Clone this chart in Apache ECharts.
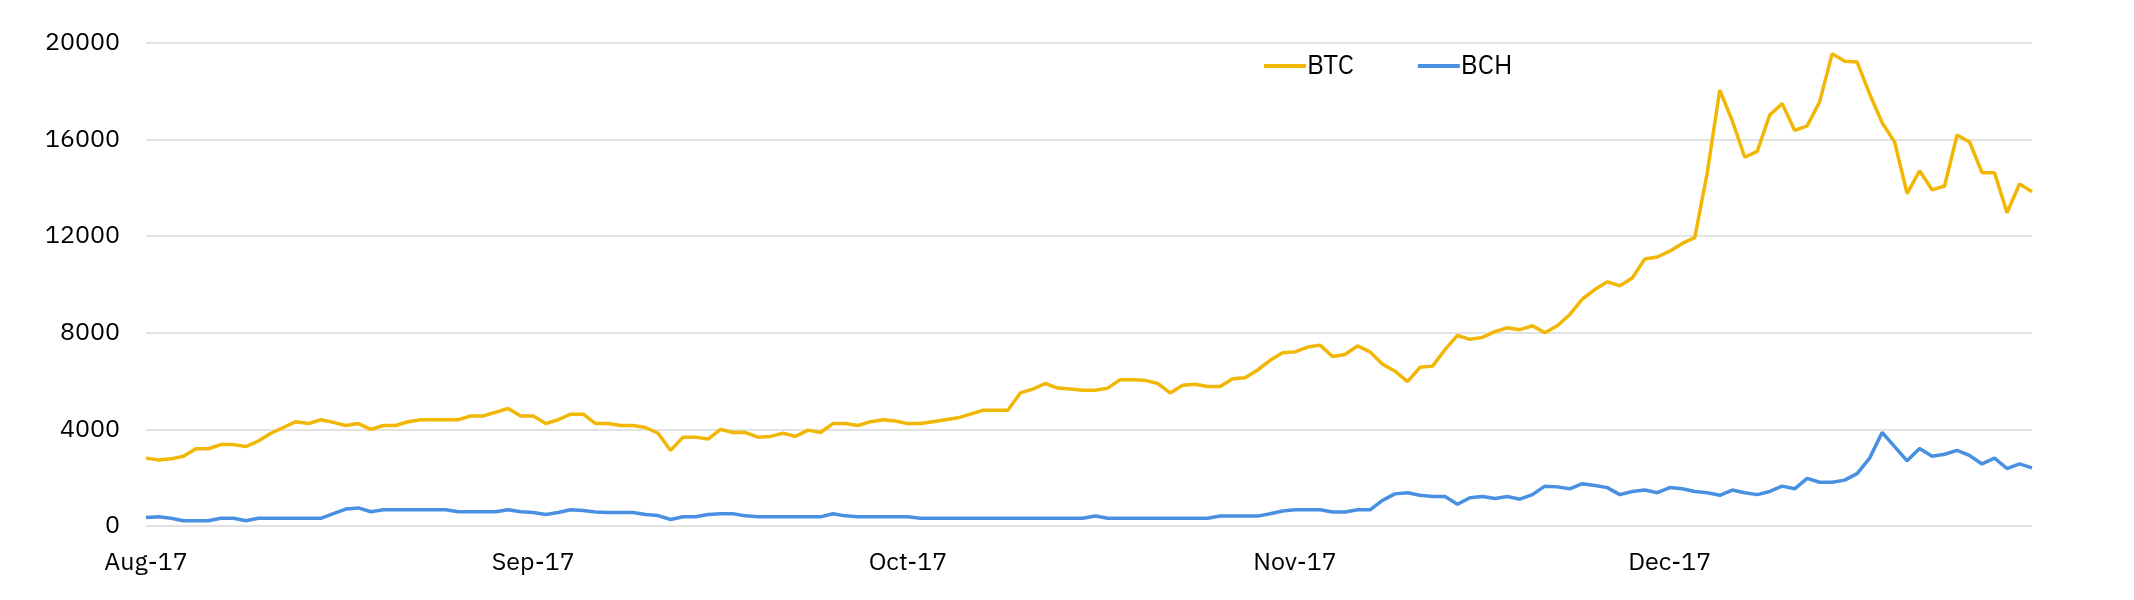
<!DOCTYPE html>
<html>
<head>
<meta charset="utf-8">
<script src="https://cdn.jsdelivr.net/npm/echarts@6/dist/echarts.min.js"></script>
<style>
  html, body { margin: 0; padding: 0; background: #fff; }
  #chart { width: 2134px; height: 600px; }
</style>
</head>
<body>
<div id="chart"></div>
<script>
// daily prices, 1 Aug 2017 onwards
var btc = [
    2810, 2730, 2780, 2890, 3200, 3200, 3370, 3370, 3290, 3520,
    3840, 4080, 4320, 4240, 4400, 4290, 4160, 4240, 4000, 4160,
    4160, 4320, 4400, 4400, 4400, 4400, 4560, 4560, 4710, 4870,
    4560, 4560, 4240, 4400, 4630, 4630, 4240, 4240, 4160, 4160,
    4080, 3840, 3130, 3680, 3680, 3600, 4000, 3870, 3870, 3680,
    3710, 3840, 3710, 3970, 3870, 4240, 4240, 4160, 4320, 4400,
    4350, 4240, 4240, 4320, 4400, 4480, 4630, 4790, 4790, 4790,
    5510, 5670, 5900, 5710, 5670, 5620, 5620, 5710, 6060, 6060,
    6030, 5900, 5510, 5830, 5870, 5780, 5780, 6100, 6140, 6460,
    6860, 7170, 7210, 7410, 7490, 7020, 7100, 7460, 7210, 6700,
    6410, 5980, 6570, 6620, 7300, 7890, 7730, 7810, 8050, 8210,
    8130, 8290, 8000, 8290, 8760, 9400, 9790, 10110, 9950, 10270,
    11060, 11140, 11380, 11700, 11940, 14630, 18050, 16780, 15270, 15510,
    17020, 17490, 16380, 16570, 17570, 19560, 19240, 19210, 17890, 16700,
    15900, 13760, 14710, 13920, 14080, 16190, 15900, 14630, 14630, 12970,
    14160, 13840
];
var bch = [
    350, 380, 320, 220, 220, 220, 320, 320, 220, 320,
    320, 320, 320, 320, 320, 510, 700, 750, 590, 670,
    670, 670, 670, 670, 670, 590, 590, 590, 590, 670,
    590, 560, 480, 560, 670, 640, 580, 560, 560, 560,
    480, 430, 270, 380, 380, 480, 510, 510, 420, 380,
    380, 380, 380, 380, 380, 510, 420, 380, 380, 380,
    380, 380, 320, 320, 320, 320, 320, 320, 320, 320,
    320, 320, 320, 320, 320, 320, 410, 320, 320, 320,
    320, 320, 320, 320, 320, 320, 410, 410, 410, 410,
    510, 620, 670, 670, 670, 580, 580, 670, 670, 1060,
    1330, 1380, 1270, 1220, 1220, 900, 1170, 1220, 1140, 1220,
    1110, 1300, 1650, 1620, 1540, 1750, 1680, 1590, 1300, 1430,
    1490, 1380, 1590, 1540, 1430, 1380, 1270, 1490, 1380, 1300,
    1430, 1650, 1540, 1970, 1810, 1810, 1900, 2170, 2810, 3870,
    3290, 2700, 3210, 2890, 2970, 3130, 2920, 2570, 2810, 2380,
    2570, 2410
];
var monthNames = ['Jan', 'Feb', 'Mar', 'Apr', 'May', 'Jun', 'Jul', 'Aug', 'Sep', 'Oct', 'Nov', 'Dec'];
var yTicks = [0, 4000, 8000, 12000, 16000, 20000];

var days = [];
for (var i = 0; i < btc.length; i++) {
    days.push(new Date(2017, 7, 1 + i));
}
var cats = days.map(function (d) {
    return d.getDate() == 1 ? monthNames[d.getMonth()] + '-17' : '';
});

var chart = echarts.init(document.getElementById('chart'));
var font = 'IBM Plex Sans, Noto Sans, sans-serif';
chart.setOption({
    animation: false,
    grid: { left: 146, right: 102, top: 43, bottom: 74 },
    legend: {
        left: 1259,
        top: 48,
        itemWidth: 42,
        itemHeight: 4,
        itemGap: 64,
        icon: 'rect',
        textStyle: { fontFamily: font, fontSize: 26, color: '#000', padding: [0, 0, 0, -4] },
        data: ['BTC', 'BCH']
    },
    xAxis: {
        type: 'category',
        data: cats,
        boundaryGap: false,
        axisLine: { show: false },
        axisTick: { show: false },
        axisLabel: {
            interval: function (i, v) { return v !== ''; },
            margin: 24,
            fontFamily: font,
            fontSize: 25,
            color: '#000'
        }
    },
    yAxis: {
        type: 'value',
        min: yTicks[0],
        max: yTicks[yTicks.length - 1],
        interval: 4000,
        axisLabel: {
            margin: 26, fontFamily: font, fontSize: 25, color: '#000',
            formatter: function (v) { return String(v); }
        },
        splitLine: { lineStyle: { color: '#d9d9d9', width: 1.5 } }
    },
    series: [
        {
            name: 'BTC', type: 'line', data: btc, showSymbol: false,
            itemStyle: { color: '#f2b705' },
            lineStyle: { color: '#f2b705', width: 3.5 }
        },
        {
            name: 'BCH', type: 'line', data: bch, showSymbol: false,
            itemStyle: { color: '#4a90e2' },
            lineStyle: { color: '#4a90e2', width: 3.5 }
        }
    ]
});
</script>
</body>
</html>
